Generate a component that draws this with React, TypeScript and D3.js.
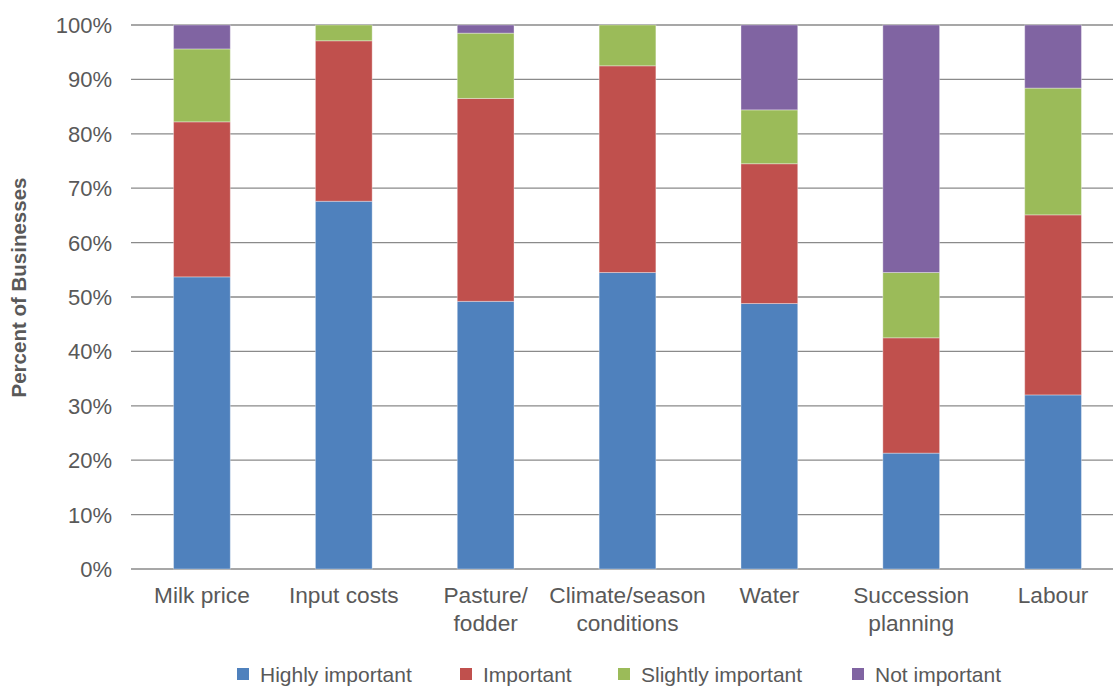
import React from "react";
import * as d3 from "d3";

const categories = [
  ["Milk price"],
  ["Input costs"],
  ["Pasture/", "fodder"],
  ["Climate/season", "conditions"],
  ["Water"],
  ["Succession", "planning"],
  ["Labour"],
];
const seriesNames = ["Highly important", "Important", "Slightly important", "Not important"];
const seriesColors = ["#4F81BD", "#C0504D", "#9BBB59", "#8064A2"];
const highly = [53.7, 67.6, 49.2, 54.5, 48.8, 21.3, 32.0];
const important = [28.5, 29.5, 37.3, 38.0, 25.7, 21.2, 33.1];
const slightly = [13.4, 2.9, 12.0, 7.5, 9.9, 12.0, 23.3];
const notImportant = [4.4, 0, 1.5, 0, 15.6, 45.5, 11.6];
const yTicks = [0, 10, 20, 30, 40, 50, 60, 70, 80, 90, 100];

const W = 1113;
const H = 686;
const left = 131;
const right = 1124;
const top = 25;
const bottom = 569;
const legendX = [237, 460, 618, 852];

export default function App() {
  const x = d3
    .scaleBand<number>()
    .domain(d3.range(categories.length))
    .range([left, right])
    .paddingInner(0.6)
    .paddingOuter(0.3);
  const y = d3.scaleLinear().domain([0, 100]).range([bottom, top]);

  const rows = categories.map((_, i) => ({
    i,
    s0: highly[i],
    s1: important[i],
    s2: slightly[i],
    s3: notImportant[i],
  }));
  const stack = d3.stack<any>().keys(["s0", "s1", "s2", "s3"]);
  const layers = stack(rows);
  const textColor = "#595959";
  const font = "'Liberation Sans', Arial, sans-serif";

  return (
    <svg
      width={W}
      height={H}
      style={{ position: "absolute", left: 0, top: 0, background: "#fff" }}
      fontFamily={font}
    >
      {yTicks.map((t) => (
        <g key={t}>
          <line x1={left} x2={W} y1={y(t)} y2={y(t)} stroke="#8a8a8a" strokeWidth={1.3} />
          <text x={112} y={y(t)} dy="0.36em" textAnchor="end" fontSize={22} fill={textColor}>
            {t}%
          </text>
        </g>
      ))}
      {layers.map((layer, si) =>
        layer.map((d, ci) =>
          d[1] - d[0] > 0 ? (
            <rect
              key={si + "-" + ci}
              x={x(ci)}
              width={x.bandwidth()}
              y={y(d[1])}
              height={y(d[0]) - y(d[1])}
              fill={seriesColors[si]}
              stroke="rgba(255,255,255,0.35)"
              strokeWidth={1}
            />
          ) : null
        )
      )}
      {categories.map((lines, ci) => (
        <text
          key={ci}
          x={(x(ci) as number) + x.bandwidth() / 2}
          y={603}
          textAnchor="middle"
          fontSize={22.7}
          fill={textColor}
        >
          {lines.map((ln, li) => (
            <tspan key={li} x={(x(ci) as number) + x.bandwidth() / 2} dy={li === 0 ? 0 : 28}>
              {ln}
            </tspan>
          ))}
        </text>
      ))}
      <text
        transform={`translate(26,287.5) rotate(-90)`}
        textAnchor="middle"
        fontSize={20.5}
        fontWeight="bold"
        fill={textColor}
      >
        Percent of Businesses
      </text>
      {seriesNames.map((name, si) => (
        <g key={name}>
          <rect x={legendX[si]} y={668} width={12} height={12} fill={seriesColors[si]} />
          <text x={legendX[si] + 23} y={682} fontSize={21} fill={textColor}>
            {name}
          </text>
        </g>
      ))}
    </svg>
  );
}
